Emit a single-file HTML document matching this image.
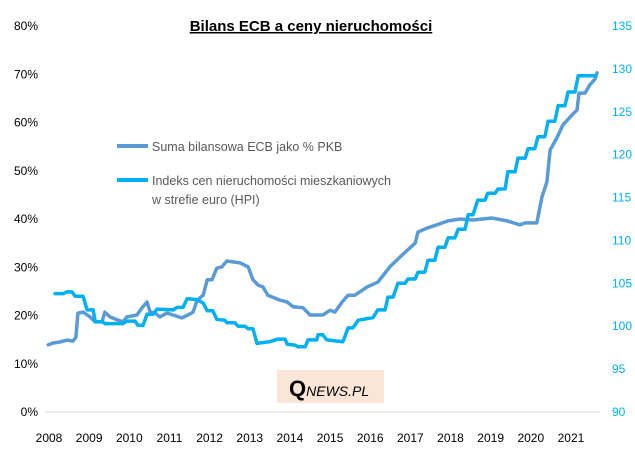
<!DOCTYPE html>
<html><head><meta charset="utf-8"><style>
body{margin:0;background:#fff;font-family:"Liberation Sans",sans-serif}
svg text{font-family:"Liberation Sans",sans-serif}
</style></head><body>
<svg id="c" width="635" height="454" xmlns="http://www.w3.org/2000/svg">
<text x="311" y="31" text-anchor="middle" font-size="15" font-weight="bold" text-decoration="underline" fill="#000">Bilans ECB a ceny nieruchomości</text>
<rect x="277" y="370" width="107" height="33" fill="#fbe5d6"/>
<text x="289" y="396" font-family="Liberation Serif" font-size="22" font-weight="bold" fill="#000">Q<tspan font-size="14" font-style="italic" font-weight="normal">NEWS.PL</tspan></text>
<g id="axes"></g>
<g id="series"></g>
<g>
<line x1="117" y1="146" x2="148" y2="146" stroke="#5b9bd5" stroke-width="4"/>
<text x="152" y="151" font-size="12.5" fill="#595959">Suma bilansowa ECB jako % PKB</text>
<line x1="117" y1="180" x2="148" y2="180" stroke="#00b0f0" stroke-width="4"/>
<text x="152" y="185" font-size="12.5" fill="#595959">Indeks cen nieruchomości mieszkaniowych</text>
<text x="152" y="204" font-size="12.5" fill="#595959">w strefie euro (HPI)</text>
</g>
</svg>
<script>
const xTicks=[2008,2009,2010,2011,2012,2013,2014,2015,2016,2017,2018,2019,2020,2021];
const leftTicks=[0,10,20,30,40,50,60,70,80];
const rightTicks=[90,95,100,105,110,115,120,125,130,135];
const ecbYears=[2007.98,2008.10,2008.27,2008.45,2008.60,2008.67,2008.72,2008.85,2009.02,2009.15,2009.32,2009.39,2009.52,2009.69,2009.84,2009.94,2010.19,2010.32,2010.44,2010.52,2010.64,2010.76,2010.94,2011.09,2011.31,2011.46,2011.59,2011.69,2011.84,2011.94,2012.06,2012.18,2012.31,2012.43,2012.58,2012.76,2012.96,2013.08,2013.21,2013.33,2013.45,2013.75,2013.93,2014.08,2014.33,2014.50,2014.82,2015.00,2015.12,2015.30,2015.45,2015.62,2015.92,2016.19,2016.49,2016.74,2017.12,2017.19,2017.41,2017.66,2017.94,2018.24,2018.56,2019.03,2019.41,2019.73,2019.86,2020.15,2020.28,2020.40,2020.48,2020.65,2020.80,2021.03,2021.15,2021.20,2021.35,2021.47,2021.60,2021.65];
const ecbValues=[13.9,14.3,14.5,14.9,14.7,15.5,20.5,20.7,19.7,18.7,18.7,20.7,19.7,19.1,18.7,19.7,20.1,21.6,22.8,20.7,20.5,19.7,20.5,20.1,19.5,20.1,20.7,23.2,24.2,27.4,27.4,29.8,30.1,31.3,31.1,30.9,30.1,27.4,26.3,25.9,24.2,23.2,22.8,21.8,21.6,20.1,20.1,21.1,20.7,22.8,24.2,24.2,25.9,26.9,30.1,32.1,35.0,37.3,38.1,38.8,39.6,40.0,39.8,40.2,39.6,38.8,39.2,39.2,44.6,47.7,54.3,56.8,59.5,61.6,62.6,66.1,66.1,67.8,69.0,70.3];
const hpiYears=[2008.15,2008.35,2008.45,2008.57,2008.65,2008.85,2008.95,2009.10,2009.15,2009.34,2009.39,2009.84,2009.94,2010.14,2010.22,2010.34,2010.44,2010.59,2010.69,2011.09,2011.19,2011.34,2011.44,2011.69,2011.84,2011.94,2012.08,2012.18,2012.38,2012.43,2012.63,2012.71,2012.88,2012.96,2013.08,2013.18,2013.50,2013.70,2013.88,2013.93,2014.13,2014.20,2014.38,2014.45,2014.67,2014.70,2014.82,2014.92,2015.32,2015.45,2015.57,2015.70,2016.07,2016.19,2016.37,2016.44,2016.57,2016.69,2016.87,2016.94,2017.12,2017.19,2017.36,2017.44,2017.61,2017.69,2017.86,2017.94,2018.11,2018.19,2018.36,2018.44,2018.56,2018.68,2018.86,2018.93,2019.11,2019.18,2019.36,2019.43,2019.61,2019.68,2019.86,2019.93,2020.10,2020.18,2020.35,2020.43,2020.60,2020.68,2020.85,2020.93,2021.10,2021.18,2021.60];
const hpiValues=[103.8,103.8,104.0,104.0,103.5,103.5,101.9,101.9,100.5,100.5,100.3,100.3,100.6,100.6,100.1,100.1,101.4,101.4,102.0,101.9,102.2,102.2,103.2,103.1,102.7,101.8,101.8,100.8,100.7,100.4,100.4,100.0,100.0,99.7,99.7,98.0,98.2,98.5,98.5,97.9,97.8,97.6,97.6,98.4,98.4,99.0,99.0,98.4,98.2,99.8,99.8,100.7,101.0,101.9,101.9,103.4,103.4,105.0,105.0,105.5,105.5,106.3,106.3,107.7,107.7,109.2,109.2,110.3,110.3,111.3,111.3,113.0,113.0,114.7,114.7,115.5,115.5,116.0,116.0,118.0,118.0,119.6,119.6,120.7,120.7,122.1,122.1,123.9,123.9,125.7,125.7,127.3,127.3,129.2,129.2];

const NS="http://www.w3.org/2000/svg";
const X0=49,XS=40.15,Y0=412,YT=26;
const xs=y=>X0+(y-2008)*XS;
const yl=v=>Y0-(v/80)*(Y0-YT);
const yr=v=>Y0-((v-90)/45)*(Y0-YT);
const axes=document.getElementById('axes'),ser=document.getElementById('series');
function mk(tag,attrs,parent){const e=document.createElementNS(NS,tag);for(const k in attrs)e.setAttribute(k,attrs[k]);parent.appendChild(e);return e;}
const base=mk('line',{x1:45,x2:600,y1:Y0,y2:Y0,stroke:'#d9d9d9','stroke-width':1},axes);


xTicks.forEach(t=>{const e=mk('text',{x:xs(t),y:442,'text-anchor':'middle','font-size':12,fill:'#000'},axes);e.textContent=t;

});
leftTicks.forEach(t=>{const e=mk('text',{x:38,y:yl(t)+4,'text-anchor':'end','font-size':12,fill:'#000'},axes);e.textContent=t+'%';

});
rightTicks.forEach(t=>{const e=mk('text',{x:612,y:yr(t)+4,'font-size':12,fill:'#00b0f0'},axes);e.textContent=t;

});
const p1=mk('polyline',{points:ecbYears.map((y,i)=>xs(y).toFixed(1)+','+yl(ecbValues[i]).toFixed(1)).join(' '),fill:'none',stroke:'#5b9bd5','stroke-width':3.5,'stroke-linejoin':'round','stroke-linecap':'round'},ser);


const p2=mk('polyline',{points:hpiYears.map((y,i)=>xs(y).toFixed(1)+','+yr(hpiValues[i]).toFixed(1)).join(' '),fill:'none',stroke:'#00b0f0','stroke-width':3.5,'stroke-linejoin':'round','stroke-linecap':'round'},ser);


</script>
</body></html>
